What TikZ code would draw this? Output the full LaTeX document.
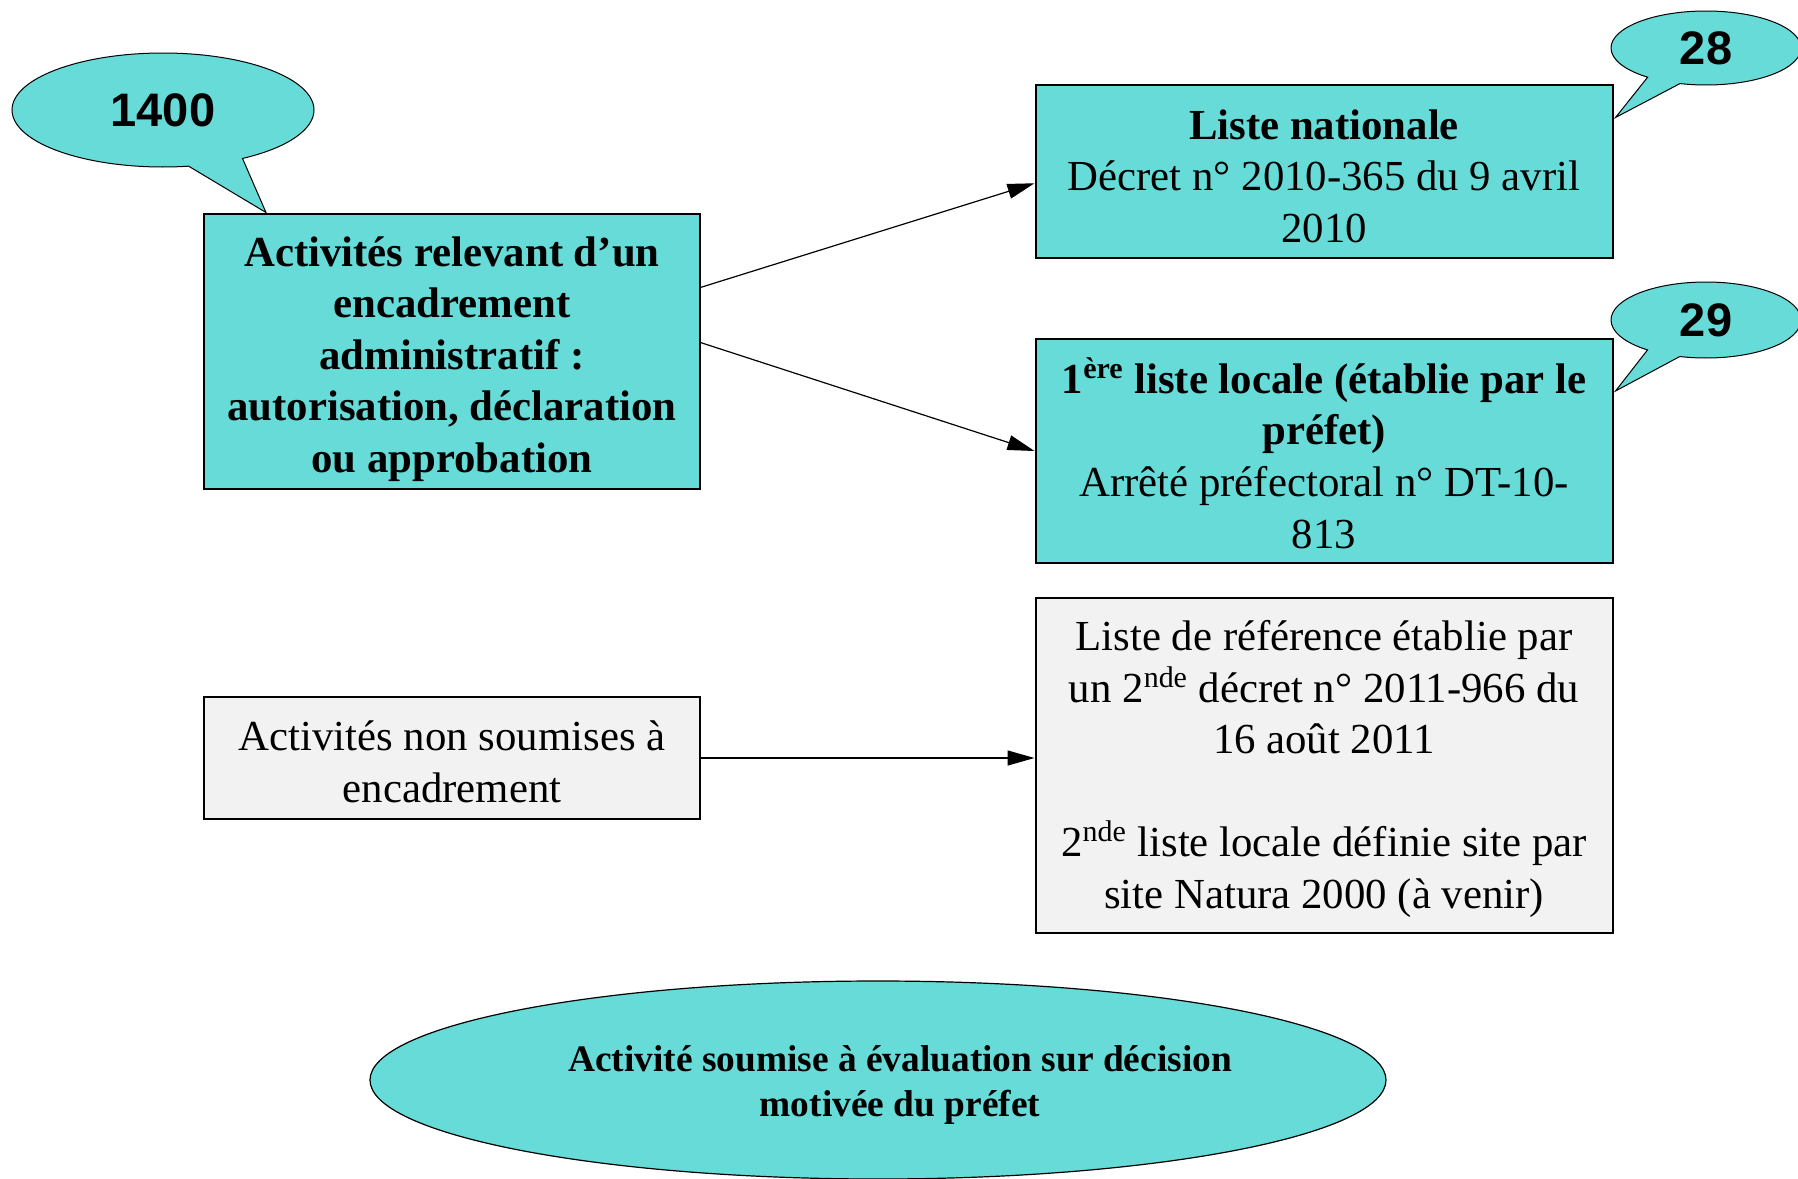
\documentclass[tikz,border=0pt]{standalone}
\usepackage{fontspec}
\setmainfont{Liberation Serif}
\newfontfamily\arialfont{Liberation Sans}
\usetikzlibrary{shapes.callouts,shapes.geometric,arrows.meta,calc}
\definecolor{tealfill}{RGB}{102,219,216}
\definecolor{greyfill}{RGB}{242,242,242}
\begin{document}
\begin{tikzpicture}[x=0.5pt,y=-0.5pt,
 box/.style={draw, line width=1pt, inner sep=0pt},
 tealbox/.style={box, fill=tealfill},
 greybox/.style={box, fill=greyfill},
 boxtext/.style={align=center, inner sep=0pt, font=\fontsize{21.4}{25.8}\selectfont},
 bubble/.style={ellipse callout, draw, line width=0.5pt, fill=tealfill, font=\arialfont\bfseries\fontsize{23.5}{28}\selectfont, inner sep=0pt, callout pointer arc=22},
 conn/.style={line width=0.6pt, -{Triangle[length=13.5pt,width=7.5pt]}}]
\useasboundingbox (0,0) rectangle (1798,1178);
% boxes
\node[tealbox, minimum width=248pt, minimum height=137.5pt] (A) at (452,351) {};
\node[boxtext, font=\bfseries\fontsize{21.4}{25.8}\selectfont] (At) at ($(A.center)+(0,8)$)
 {Activités relevant d’un\\encadrement\\administratif :\\autorisation, déclaration\\ou approbation};
\node[tealbox, minimum width=288.5pt, minimum height=86.5pt] (B) at (1324,171) {};
\node[boxtext] (Bt) at ($(B.center)+(0,5)$)
 {{\bfseries Liste nationale}\\Décret n° 2010-365 du 9 avril\\2010};
\node[tealbox, minimum width=288.5pt, minimum height=112pt] (C) at (1324,451) {};
\node[boxtext] (Ct) at ($(C.center)+(0,2)$)
 {{\bfseries 1\textsuperscript{ère} liste locale (établie par le}\\{\bfseries préfet)}\\Arrêté préfectoral n° DT-10-\\813};
\node[greybox, minimum width=288.5pt, minimum height=167.5pt] (D) at (1324,765) {};
\node[boxtext] (Dt) at ($(D.center)+(0,4)$)
 {Liste de référence établie par\\un 2\textsuperscript{nde} décret n° 2011-966 du\\16 août 2011\\[25.8pt]2\textsuperscript{nde} liste locale définie site par\\site Natura 2000 (à venir)};
\node[greybox, minimum width=248pt, minimum height=61pt] (E) at (452,758) {};
\node[boxtext] (Et) at ($(E.center)+(0,4)$)
 {Activités non soumises à\\encadrement};
\node[ellipse, draw, line width=0.6pt, fill=tealfill, minimum width=508pt, minimum height=99pt, inner sep=0pt] (F) at (878,1080) {};
\node[boxtext, font=\bfseries\fontsize{18.7}{22.9}\selectfont] (Ft) at ($(F.center)+(22,5)$)
 {Activité soumise à évaluation sur décision\\motivée du préfet};
% bubbles
\node[bubble, minimum width=151pt, minimum height=57pt, callout absolute pointer={($(A.north west)+(63,0)$)}] (N1) at (163,110) {1400};
\node[bubble, minimum width=95pt, minimum height=37pt, callout absolute pointer={($(B.north east)+(2,34)$)}] (N2) at (1706,48) {28};
\node[bubble, minimum width=95pt, minimum height=38pt, callout absolute pointer={($(C.north east)+(2,53)$)}] (N3) at (1706,320) {29};
% connectors
\coordinate (a1) at ($(A.north east)!0.27!(A.south east)$);
\coordinate (a2) at ($(A.north east)!0.47!(A.south east)$);
\coordinate (b1) at ($(B.north west)!0.57!(B.south west)$);
\draw[conn] (a1) -- (b1);
\draw[conn] (a2) -- (C.west);
\draw[conn] (E.east) -- (E.east -| D.west);
\end{tikzpicture}
\end{document}
